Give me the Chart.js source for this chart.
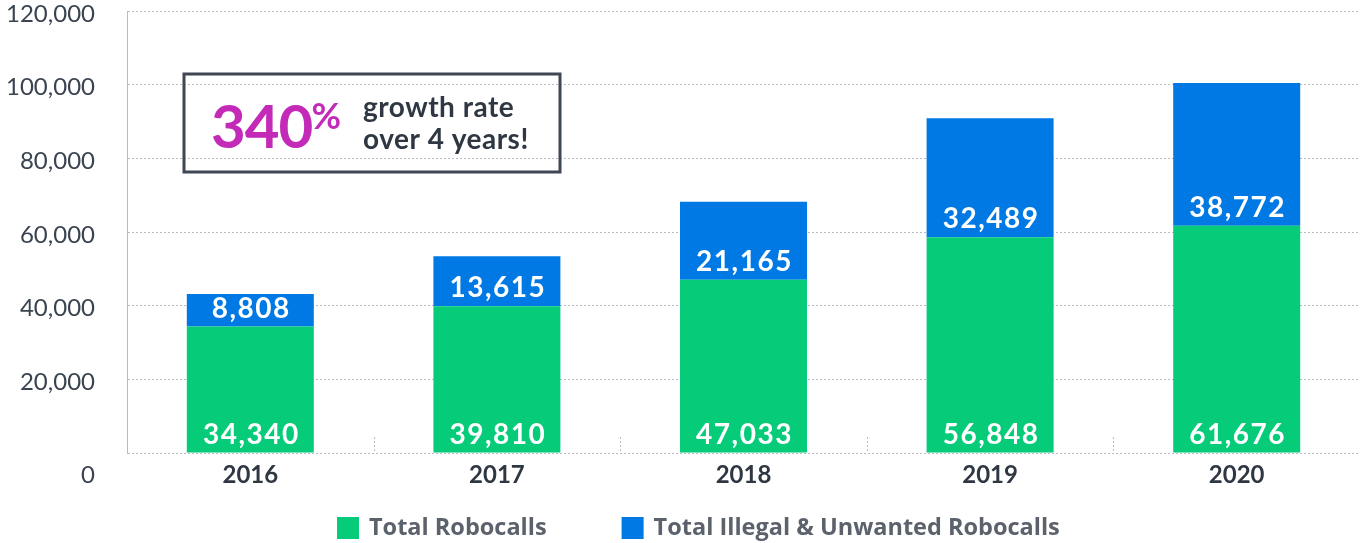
<!DOCTYPE html>
<html>
<head>
<meta charset="utf-8">
<script src="https://cdn.jsdelivr.net/npm/chart.js@4.4.0/dist/chart.umd.min.js"></script>
<style>
  html, body { margin: 0; padding: 0; background: #fff; }
  #wrap { width: 1360px; height: 543px; position: relative; }
</style>
</head>
<body>
<div id="wrap"><canvas id="myChart"></canvas></div>
<script>
const years = ['2016', '2017', '2018', '2019', '2020'];
// bar heights as drawn in the picture
const totalRobocalls = [34340, 39810, 47033, 58600, 61676];
const illegalRobocalls = [8808, 13615, 21165, 32300, 38772];
// numbers printed on the bars
const totalLabels = ['34,340', '39,810', '47,033', '56,848', '61,676'];
const illegalLabels = ['8,808', '13,615', '21,165', '32,489', '38,772'];
const yTicks = [0, 20000, 40000, 60000, 80000, 100000, 120000];

const green = '#06cc7a', blue = '#0079e5', dark = '#2e3742', gridCol = '#b9bdc1';
const FONT = 'Lato, "Noto Sans", sans-serif';
const LEGEND_FONT = '"Open Sans", Lato, sans-serif';

const barLabels = {
    id: 'barLabels',
    afterDatasetsDraw(chart) {
        const c = chart.ctx;
        const texts = [totalLabels, illegalLabels];
        c.save();
        c.fillStyle = '#fff';
        c.font = 'bold 28px ' + FONT;
        c.letterSpacing = '1.5px';
        c.textAlign = 'center';
        c.textBaseline = 'middle';
        chart.data.datasets.forEach(function (ds, i) {
            chart.getDatasetMeta(i).data.forEach(function (bar, k) {
                c.fillText(texts[i][k], bar.x + 1, bar.base - 18);
            });
        });
        c.restore();
    }
};

const extras = {
    id: 'extras',
    beforeDatasetsDraw(chart) {
        // short dotted ticks between categories, above the baseline
        const c = chart.ctx, x = chart.scales.x, a = chart.chartArea;
        c.save();
        c.strokeStyle = gridCol;
        c.lineWidth = 1;
        c.setLineDash([2, 2]);
        for (let k = 1; k < years.length; k++) {
            const px = Math.round((x.getPixelForValue(k - 1) + x.getPixelForValue(k)) / 2) + 0.5;
            c.beginPath();
            c.moveTo(px, a.bottom - 16);
            c.lineTo(px, a.bottom);
            c.stroke();
        }
        c.restore();
    },
    afterDraw(chart) {
        const c = chart.ctx, y = chart.scales.y, a = chart.chartArea;
        c.save();
        // y tick labels
        c.fillStyle = '#3a4350';
        c.font = '24px ' + FONT;
        c.textAlign = 'right';
        c.textBaseline = 'middle';
        yTicks.forEach(function (v) {
            const py = y.getPixelForValue(v) + (v === 0 ? 22 : 3);
            c.fillText(v.toLocaleString('en-US'), 95, py);
        });

        // callout box
        const bx = a.left + 57, by = a.top + 63;
        c.strokeStyle = '#3e4753';
        c.lineWidth = 3;
        c.strokeRect(bx, by, 376, 98);
        c.textAlign = 'left';
        c.textBaseline = 'alphabetic';
        c.fillStyle = '#c32ab8';
        c.font = 'bold 60px ' + FONT;
        c.letterSpacing = '-1px';
        c.fillText('340', bx + 27, by + 74);
        const w = c.measureText('340').width;
        c.letterSpacing = '0px';
        c.font = 'bold 36px ' + FONT;
        c.fillText('%', bx + 26 + w, by + 55);
        c.fillStyle = dark;
        c.font = 'bold 28px ' + FONT;
        c.letterSpacing = '0.5px';
        c.fillText('growth rate', bx + 179, by + 43);
        c.fillText('over 4 years!', bx + 179, by + 75);

        // legend
        c.letterSpacing = '0px';
        c.font = 'bold 23.5px ' + LEGEND_FONT;
        c.textBaseline = 'middle';
        const cols = [green, blue];
        const names = chart.data.datasets.map(function (d) { return d.label; });
        const widths = names.map(function (n) { return c.measureText(n).width; });
        const total = widths[0] + widths[1] + 2 * (22 + 10) + 75;
        let lx = Math.round(698 - total / 2);
        names.forEach(function (n, i) {
            c.fillStyle = cols[i];
            c.fillRect(lx, 517, 22, 22);
            c.fillStyle = '#5b626c';
            c.fillText(n, lx + 32, 528);
            lx += 22 + 10 + widths[i] + 75;
        });
        c.restore();
    }
};

new Chart(document.getElementById('myChart'), {
    type: 'bar',
    data: {
        labels: years,
        datasets: [
            {label: 'Total Robocalls', data: totalRobocalls, backgroundColor: green},
            {label: 'Total Illegal & Unwanted Robocalls', data: illegalRobocalls, backgroundColor: blue}
        ]
    },
    options: {
        responsive: true,
        maintainAspectRatio: false,
        animation: false,
        layout: {padding: {top: 11, right: 0, left: 0, bottom: 0}},
        datasets: {bar: {barPercentage: 0.515, categoryPercentage: 1}},
        plugins: {
            legend: {display: false},
            tooltip: {enabled: false}
        },
        scales: {
            x: {
                stacked: true,
                grid: {display: false},
                border: {display: false},
                ticks: {color: dark, font: {family: FONT, size: 24, weight: 'bold'}, padding: 0},
                afterFit: function (s) { s.height = 90; }
            },
            y: {
                stacked: true,
                min: 0, max: 120000,
                ticks: {display: false, stepSize: 20000},
                grid: {color: gridCol, lineWidth: 1, drawTicks: false},
                border: {display: true, dash: [2, 2], color: gridCol},
                afterFit: function (s) { s.width = 127; }
            }
        }
    },
    plugins: [barLabels, extras]
});
</script>
</body>
</html>
